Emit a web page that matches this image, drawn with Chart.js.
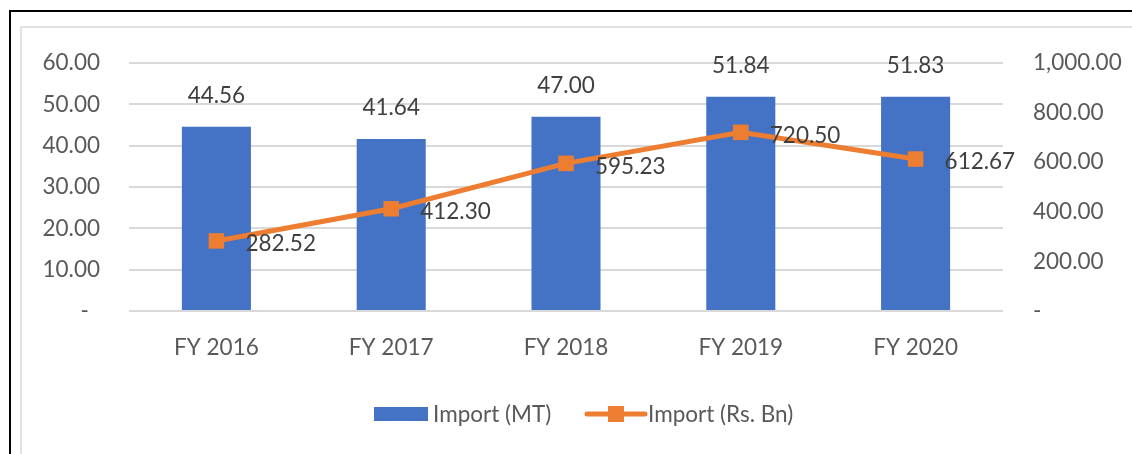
<!DOCTYPE html>
<html>
<head>
<meta charset="utf-8">
<script src="https://cdn.jsdelivr.net/npm/chart.js@4.4.1/dist/chart.umd.min.js"></script>
<style>
  html, body { margin: 0; padding: 0; background: #ffffff; }
  #wrap { position: relative; width: 1132px; height: 454px; overflow: hidden; }
  #outer { position: absolute; left: 9px; top: 10px; right: -10px; bottom: -10px; border-top: 2px solid #000; border-left: 2px solid #000; }
  #inner { position: absolute; left: 20px; top: 26px; right: -10px; bottom: -10px; border-top: 2px solid #e2e2e2; border-left: 2px solid #e2e2e2; }
  canvas { position: absolute; left: 0; top: 0; }
</style>
</head>
<body>
<div id="wrap">
  <div id="outer"></div>
  <div id="inner"></div>
  <canvas id="c" width="1132" height="454"></canvas>
</div>
<script>
const categories = ['FY 2016', 'FY 2017', 'FY 2018', 'FY 2019', 'FY 2020'];
const importMT = [44.56, 41.64, 47.00, 51.84, 51.83];
const importRsBn = [282.52, 412.30, 595.23, 720.50, 612.67];
const seriesNames = ['Import (MT)', 'Import (Rs. Bn)'];
const leftTicks = { min: 0, max: 60, step: 10 };
const rightTicks = { min: 0, max: 1000, step: 200 };

const BLUE = '#4472C4';
const ORANGE = '#ED7D31';
const AXIS_TXT = '#595959';
const LABEL_TXT = '#404040';
const FONT_FAMILY = 'Lato, "Open Sans", sans-serif';
const FONT_SIZE = 22.5;

function fmt(v) {
  if (v === 0) return '-\u2002';
  return v.toLocaleString('en-US', { minimumFractionDigits: 2, maximumFractionDigits: 2 });
}

const labelPlugin = {
  id: 'valueLabels',
  afterDatasetsDraw(chart) {
    const ctx = chart.ctx;
    ctx.save();
    ctx.font = FONT_SIZE + 'px ' + FONT_FAMILY;
    ctx.fillStyle = LABEL_TXT;
    const barMeta = chart.getDatasetMeta(1);
    barMeta.data.forEach((el, i) => {
      ctx.textAlign = 'center';
      ctx.textBaseline = 'middle';
      ctx.fillText(fmt(importMT[i]), el.x, el.y - 31);
    });
    const lineMeta = chart.getDatasetMeta(0);
    lineMeta.data.forEach((el, i) => {
      ctx.textAlign = 'left';
      ctx.textBaseline = 'middle';
      ctx.fillText(fmt(importRsBn[i]), el.x + 29, el.y + 3);
    });
    ctx.restore();
  }
};

const legendPlugin = {
  id: 'customLegend',
  afterDraw(chart) {
    const ctx = chart.ctx;
    ctx.save();
    ctx.font = FONT_SIZE + 'px ' + FONT_FAMILY;
    ctx.textBaseline = 'middle';
    ctx.textAlign = 'left';
    const y = 414;
    const x1 = 374, x2 = 587;
    ctx.fillStyle = BLUE;
    ctx.fillRect(x1, y - 7, 54, 14);
    ctx.fillStyle = AXIS_TXT;
    ctx.fillText(seriesNames[0], x1 + 59, y + 1);
    ctx.strokeStyle = ORANGE;
    ctx.lineWidth = 5;
    ctx.lineCap = 'round';
    ctx.beginPath();
    ctx.moveTo(x2, y);
    ctx.lineTo(x2 + 58, y);
    ctx.stroke();
    ctx.fillStyle = ORANGE;
    ctx.fillRect(x2 + 29 - 8, y - 8, 16, 16);
    ctx.fillStyle = AXIS_TXT;
    ctx.fillText(seriesNames[1], x2 + 61, y + 1);
    ctx.restore();
  }
};

new Chart(document.getElementById('c'), {
  data: {
    labels: categories,
    datasets: [
      {
        type: 'line',
        label: seriesNames[1],
        data: importRsBn,
        yAxisID: 'y1',
        borderColor: ORANGE,
        backgroundColor: ORANGE,
        borderWidth: 5,
        pointStyle: 'rect',
        pointRadius: 11,
        pointBorderWidth: 0,
        pointBackgroundColor: ORANGE,
        tension: 0,
        order: 0
      },
      {
        type: 'bar',
        label: seriesNames[0],
        data: importMT,
        yAxisID: 'y',
        backgroundColor: BLUE,
        borderWidth: 0,
        barPercentage: 0.79,
        categoryPercentage: 0.5,
        order: 1
      }
    ]
  },
  options: {
    responsive: false,
    devicePixelRatio: 1,
    animation: false,
    layout: { padding: { top: 63, left: 0, right: 0, bottom: 0 } },
    plugins: {
      legend: { display: false },
      tooltip: { enabled: false }
    },
    scales: {
      x: {
        position: 'bottom',
        grid: { display: false, drawTicks: false },
        border: { display: false },
        ticks: { color: AXIS_TXT, font: { family: FONT_FAMILY, size: FONT_SIZE }, padding: 23, maxRotation: 0 },
        afterFit(s) { s.height = 454 - 311; }
      },
      y: {
        position: 'left',
        min: leftTicks.min, max: leftTicks.max,
        grid: { color: '#d9d9d9', lineWidth: 2, drawTicks: false },
        border: { display: false },
        ticks: {
          stepSize: leftTicks.step,
          color: AXIS_TXT,
          font: { family: FONT_FAMILY, size: FONT_SIZE },
          padding: 29,
          callback: (v) => fmt(v)
        },
        afterFit(s) { s.width = 129; }
      },
      y1: {
        position: 'right',
        min: rightTicks.min, max: rightTicks.max,
        grid: { display: false, drawTicks: false },
        border: { display: false },
        ticks: {
          stepSize: rightTicks.step,
          color: AXIS_TXT,
          font: { family: FONT_FAMILY, size: FONT_SIZE },
          padding: 30,
          callback: (v) => fmt(v)
        },
        afterFit(s) { s.width = 1132 - 1003; }
      }
    }
  },
  plugins: [labelPlugin, legendPlugin]
});
</script>
</body>
</html>
